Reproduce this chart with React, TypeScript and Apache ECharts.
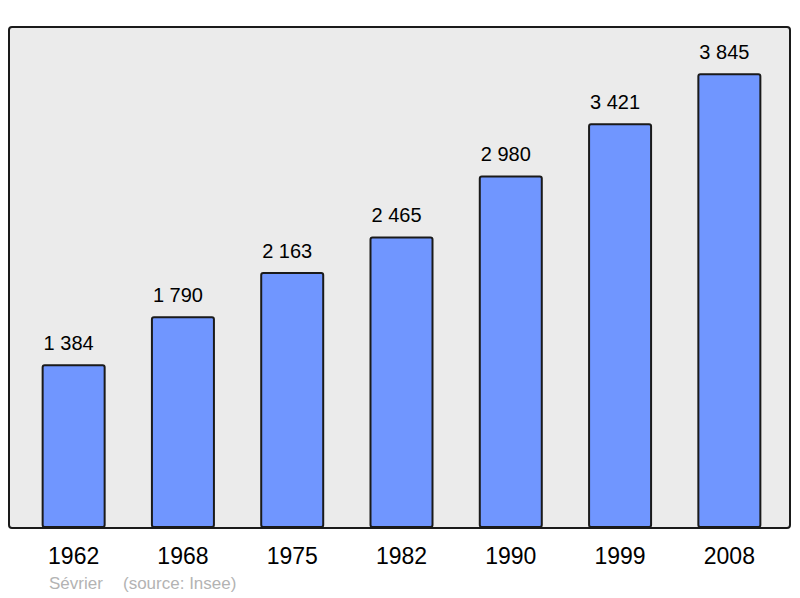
import React, { useEffect, useRef } from "react";
import * as echarts from "echarts";

const years = ["1962", "1968", "1975", "1982", "1990", "1999", "2008"];
const population = [1384, 1790, 2163, 2465, 2980, 3421, 3845];
const captionName = "Sévrier";
const captionSource = "(source: Insee)";

const fmt = (v: number) => {
  const s = String(v);
  return s.length > 3 ? s.slice(0, s.length - 3) + " " + s.slice(-3) : s;
};

export default function App() {
  const ref = useRef<HTMLDivElement>(null);
  useEffect(() => {
    if (!ref.current) return;
    const chart = echarts.init(ref.current, null, { renderer: "svg" });
    chart.setOption({
      animation: false,
      backgroundColor: "#ffffff",
      textStyle: { fontFamily: "Liberation Sans, Arial, sans-serif" },
      graphic: [
        {
          type: "rect",
          z: -10,
          shape: { x: 9, y: 27, width: 781, height: 501, r: 3 },
          style: { fill: "#ebebeb", stroke: "#1a1a1a", lineWidth: 2 },
        },
        {
          type: "text",
          left: 49,
          top: 575,
          style: {
            text: captionName,
            fill: "#b3b3b3",
            font: "17px 'Liberation Sans', Arial, sans-serif",
          },
        },
        {
          type: "text",
          left: 123,
          top: 575,
          style: {
            text: captionSource,
            fill: "#b3b3b3",
            font: "17px 'Liberation Sans', Arial, sans-serif",
          },
        },
      ],
      grid: { left: 19, right: 16, top: 27, bottom: 70, containLabel: false },
      xAxis: {
        type: "category",
        data: years,
        axisLine: { show: false },
        axisTick: { show: false },
        axisLabel: {
          color: "#000",
          fontSize: 23,
          margin: 16,
          fontFamily: "Liberation Sans, Arial, sans-serif",
        },
      },
      yAxis: {
        type: "value",
        min: 0,
        max: 4235,
        show: false,
        splitLine: { show: false },
      },
      series: [
        {
          type: "bar",
          data: population,
          barWidth: 64,
          itemStyle: {
            color: "#7096ff",
            borderColor: "#1a1a1a",
            borderWidth: 2,
            borderRadius: 2,
          },
          label: {
            show: true,
            position: "top",
            distance: 11,
            offset: [-5, 0],
            color: "#000",
            fontSize: 20,
            fontFamily: "Liberation Sans, Arial, sans-serif",
            formatter: (p: any) => fmt(p.value),
          },
        },
      ],
    });
    return () => chart.dispose();
  }, []);
  return <div ref={ref} style={{ width: 800, height: 598, position: "absolute", left: 0, top: 0 }} />;
}
